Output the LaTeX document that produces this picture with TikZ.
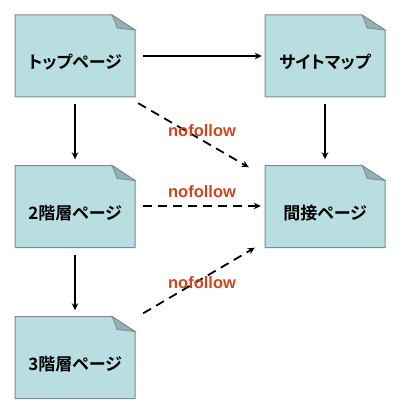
\documentclass[tikz,border=0pt]{standalone}
\usepackage{fontspec}
\newfontfamily\jpfont{Noto Sans CJK JP}[BoldFont={Noto Sans CJK JP Bold},RawFeature=+palt]
\newfontfamily\lblfont{Liberation Sans}
\usetikzlibrary{arrows.meta}
\definecolor{boxfill}{HTML}{B9DEE2}
\definecolor{foldfill}{HTML}{93B1B4}
\definecolor{boxedge}{HTML}{7D8C8E}
\definecolor{lblred}{HTML}{D0461C}
\newcommand{\pagetext}[1]{\raisebox{-12.5pt}[0pt][0pt]{#1}}
\begin{document}
\begin{tikzpicture}[x=1pt,y=-1pt,
  page/.style={minimum width=120pt,minimum height=82pt,inner sep=0pt,
    font=\jpfont\bfseries\fontsize{17}{18}\selectfont},
  arr/.style={line width=1.8pt,-{Stealth[length=7pt,width=6.5pt]}},
  darr/.style={arr,dash pattern=on 9pt off 6pt},
  lbl/.style={text=lblred,font=\lblfont\bfseries\fontsize{16.5}{18}\selectfont,inner sep=0pt}]
\useasboundingbox (0,0) rectangle (400,414);
\fill[white] (0,0) rectangle (400,414);
% shapes
\foreach \cx/\cy in {75/56,325/56,75/206.5,325/206.5,75/357.5}{
  \filldraw[fill=boxfill,draw=boxedge,line width=1pt]
    (\cx-60,\cy-41) -- (\cx+37,\cy-41) -- (\cx+60,\cy-26) -- (\cx+60,\cy+41) -- (\cx-60,\cy+41) -- cycle;
  \filldraw[fill=foldfill,draw=boxedge,line width=0.8pt]
    (\cx+37,\cy-41) .. controls (\cx+40,\cy-35) and (\cx+41,\cy-31) .. (\cx+42,\cy-28) -- (\cx+60,\cy-26) -- cycle;
}
\node[page] (top) at (75,56) {\pagetext{トップページ}};
\node[page] (site) at (325,56) {\pagetext{サイトマップ}};
\node[page] (l2) at (75,206.5) {\pagetext{2階層ページ}};
\node[page] (ind) at (325,206.5) {\pagetext{間接ページ}};
\node[page] (l3) at (75,357.5) {\pagetext{3階層ページ}};
% arrows
\draw[arr] ([xshift=8pt]top.east) -- ([xshift=-3pt]site.west);
\draw[arr] ([yshift=-7pt]top.south) -- ([yshift=6pt]l2.north);
\draw[arr] ([yshift=-7pt]site.south) -- ([yshift=6pt]ind.north);
\draw[arr] ([yshift=-7pt]l2.south) -- ([yshift=6pt]l3.north);
\draw[darr] ([xshift=3pt,yshift=-6pt]top.south east) -- ([xshift=-16pt,yshift=-2pt]ind.north west);
\draw[darr] ([xshift=8pt,yshift=0.5pt]l2.east) -- ([xshift=-4pt,yshift=0.5pt]ind.west);
\draw[darr] ([xshift=8pt,yshift=3pt]l3.north east) -- ([xshift=-10pt]ind.south west);
% labels
\node[lbl] (n1) at (202,131) {nofollow};
\node[lbl] (n2) at (202,192) {nofollow};
\node[lbl] (n3) at (202,283) {nofollow};
\end{tikzpicture}
\end{document}
